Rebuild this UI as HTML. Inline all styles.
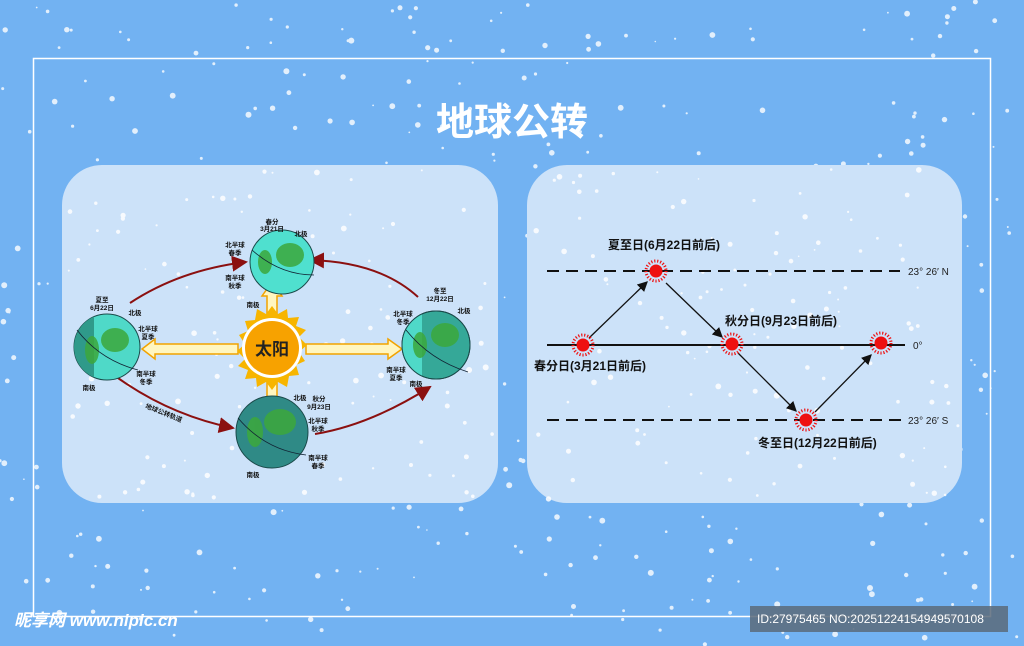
<!DOCTYPE html>
<html><head><meta charset="utf-8"><style>
body{margin:0;width:1024px;height:646px;overflow:hidden;background:#72b2f2;font-family:"Liberation Sans","Noto Sans CJK SC",sans-serif}
</style></head><body>
<svg width="1024" height="646" viewBox="0 0 1024 646" xmlns="http://www.w3.org/2000/svg" style="position:absolute;left:0;top:0">
<defs>
<marker id="ar" markerWidth="8" markerHeight="8" refX="7" refY="4" orient="auto"><path d="M0,0 L8,4 L0,8 z" fill="#8b1010"/></marker>
<marker id="ab" markerWidth="8" markerHeight="8" refX="7" refY="4" orient="auto"><path d="M0,0 L8,4 L0,8 z" fill="#111"/></marker>
<clipPath id="cR"><circle cx="436" cy="345" r="34"/></clipPath>
<clipPath id="cL"><circle cx="107" cy="347" r="33"/></clipPath>
</defs>
<rect width="1024" height="646" fill="#72b2f2"/>
<g id="snow1" fill="#fff" opacity="0.8"></g>
<rect x="33.5" y="58.5" width="957" height="558" fill="none" stroke="#fff" stroke-width="1.5"/>
<text x="512" y="135" text-anchor="middle" fill="#fff" font-size="38" font-weight="bold">地球公转</text>
<rect x="62" y="165" width="436" height="338" rx="40" fill="#cce2f9"/>
<rect x="527" y="165" width="435" height="338" rx="40" fill="#cce2f9"/>
<g id="snow2" fill="#fff" opacity="0.85"></g>
<!-- orbit -->
<g fill="none" stroke="#8b1010" stroke-width="2">
<path d="M130,303 Q180,270 246,262" marker-end="url(#ar)"/>
<path d="M418,297 Q380,262 310,260" marker-end="url(#ar)"/>
<path d="M118,378 Q170,415 233,428" marker-end="url(#ar)"/>
<path d="M315,434 Q370,425 430,387" marker-end="url(#ar)"/>
</g>
<g fill="#fff6c0" stroke="#f2a300" stroke-width="1.5">
<path d="M238,344 L155,344 L155,339 L142,349 L155,359 L155,354 L238,354 z"/>
<path d="M306,344 L388,344 L388,339 L402,349 L388,359 L388,354 L306,354 z"/>
<path d="M267,315 L267,296 L262,296 L272,282 L282,296 L277,296 L277,315 z"/>
<rect x="267" y="380" width="10" height="22"/>
</g>
<g transform="translate(272,348)">
<polygon fill="#f7b500" points="0,-42 6,-34 15,-39 16,-30 27,-31 24,-22 34,-18 27,-11 35,-3 27,4 33,13 24,17 27,27 17,28 15,39 6,34 0,42 -6,34 -15,39 -16,30 -27,31 -24,22 -34,18 -27,11 -35,3 -27,-4 -33,-13 -24,-17 -27,-27 -17,-28 -15,-39 -6,-34"/>
<circle r="30" fill="#fff"/><circle r="27" fill="#f7a200"/>
<text y="7" text-anchor="middle" font-size="17" font-weight="bold" fill="#222">太阳</text>
</g>
<g stroke="#1a4a4a" stroke-width="1">
<circle cx="282" cy="262" r="32" fill="#4fe0cf"/>
<circle cx="107" cy="347" r="33" fill="#4fd9c8"/>
<rect x="70" y="310" width="24" height="80" fill="#2f9a8a" stroke="none" clip-path="url(#cL)"/>
<circle cx="436" cy="345" r="34" fill="#35a898"/>
<rect x="400" y="308" width="22" height="80" fill="#4fd9c8" stroke="none" clip-path="url(#cR)"/>
<circle cx="436" cy="345" r="34" fill="none"/>
<circle cx="272" cy="432" r="36" fill="#2f8a86"/>
</g>
<g fill="#3ca83c" opacity="0.85">
<ellipse cx="290" cy="255" rx="14" ry="12"/><ellipse cx="265" cy="262" rx="7" ry="12"/>
<ellipse cx="115" cy="340" rx="14" ry="12"/><ellipse cx="92" cy="350" rx="7" ry="14"/>
<ellipse cx="445" cy="335" rx="14" ry="12"/><ellipse cx="420" cy="345" rx="7" ry="13"/>
<ellipse cx="280" cy="422" rx="16" ry="13"/><ellipse cx="255" cy="432" rx="8" ry="15"/>
</g>
<g fill="none" stroke="#123" stroke-width="0.8">
<path d="M252,250 Q280,275 314,275"/><path d="M77,330 Q100,360 138,370"/><path d="M406,330 Q430,360 468,372"/><path d="M238,418 Q265,450 306,455"/>
</g>
<g font-size="6.5" font-weight="bold" fill="#111" text-anchor="middle">
<text x="272" y="224">春分</text><text x="272" y="231">3月21日</text><text x="301" y="236">北极</text>
<text x="235" y="247">北半球</text><text x="235" y="255">春季</text><text x="235" y="280">南半球</text><text x="235" y="288">秋季</text><text x="253" y="307">南极</text>
<text x="102" y="302">夏至</text><text x="102" y="310">6月22日</text><text x="135" y="315">北极</text>
<text x="148" y="331">北半球</text><text x="148" y="339">夏季</text><text x="146" y="376">南半球</text><text x="146" y="384">冬季</text><text x="89" y="390">南极</text>
<text x="440" y="293">冬至</text><text x="440" y="301">12月22日</text><text x="464" y="313">北极</text>
<text x="403" y="316">北半球</text><text x="403" y="324">冬季</text><text x="396" y="372">南半球</text><text x="396" y="380">夏季</text><text x="416" y="386">南极</text>
<text x="300" y="400">北极</text><text x="319" y="401">秋分</text><text x="319" y="409">9月23日</text>
<text x="318" y="423">北半球</text><text x="318" y="431">秋季</text><text x="318" y="460">南半球</text><text x="318" y="468">春季</text><text x="253" y="477">南极</text>
<text x="163" y="415" transform="rotate(22 163 415)">地球公转轨道</text>
</g>
<g stroke="#111" stroke-width="2">
<line x1="547" y1="271" x2="900" y2="271" stroke-dasharray="12,7"/>
<line x1="547" y1="420" x2="905" y2="420" stroke-dasharray="12,7"/>
<line x1="547" y1="345" x2="905" y2="345"/>
</g>
<g stroke="#111" stroke-width="1.3" fill="none">
<line x1="589" y1="338" x2="647" y2="282" marker-end="url(#ab)"/>
<line x1="666" y1="283" x2="722" y2="337" marker-end="url(#ab)"/>
<line x1="738" y1="353" x2="796" y2="411" marker-end="url(#ab)"/>
<line x1="815" y1="412" x2="871" y2="355" marker-end="url(#ab)"/>
</g>
<g fill="#ee1111" stroke="#ee1111">
<g transform="translate(656,271)"><circle r="6"/><circle r="10" fill="none" stroke-width="3" stroke-dasharray="1.2,1.8"/></g>
<g transform="translate(583,345)"><circle r="6"/><circle r="10" fill="none" stroke-width="3" stroke-dasharray="1.2,1.8"/></g>
<g transform="translate(732,344)"><circle r="6"/><circle r="10" fill="none" stroke-width="3" stroke-dasharray="1.2,1.8"/></g>
<g transform="translate(881,343)"><circle r="6"/><circle r="10" fill="none" stroke-width="3" stroke-dasharray="1.2,1.8"/></g>
<g transform="translate(806,420)"><circle r="6"/><circle r="10" fill="none" stroke-width="3" stroke-dasharray="1.2,1.8"/></g>
</g>
<g font-size="12" font-weight="bold" fill="#111">
<text x="608" y="249">夏至日(6月22日前后)</text>
<text x="725" y="325">秋分日(9月23日前后)</text>
<text x="534" y="370">春分日(3月21日前后)</text>
<text x="758" y="447">冬至日(12月22日前后)</text>
</g>
<g font-size="10" fill="#222">
<text x="908" y="275">23°  26′  N</text>
<text x="913" y="349">0°</text>
<text x="908" y="424">23°  26′  S</text>
</g>
<text x="14" y="626" font-size="17" font-weight="bold" font-style="italic" fill="#fff">昵享网 www.nipic.cn</text>
<rect x="750" y="606" width="258" height="26" fill="#5a6a7a" opacity="0.85"/>
<text x="757" y="623" font-size="12" fill="#fff">ID:27975465 NO:20251224154949570108</text>
</svg>
<script>
(function(){var s=12345;function r(){s=(s*16807)%2147483647;return s/2147483647;}
var ns="http://www.w3.org/2000/svg";
function fill(id,n,x0,y0,w,h,inPanel){var g=document.getElementById(id);for(var i=0;i<n;i++){var x=x0+r()*w,y=y0+r()*h;
if(inPanel){if(!((x>66&&x<494&&y>169&&y<499)||(x>531&&x<958&&y>169&&y<499)))continue;}
var c=document.createElementNS(ns,"circle");c.setAttribute("cx",x.toFixed(1));c.setAttribute("cy",y.toFixed(1));c.setAttribute("r",(0.8+r()*2.2).toFixed(1));g.appendChild(c);}}
fill("snow1",450,0,0,1024,646,false);fill("snow2",260,62,165,900,338,true);})();
</script>
</body></html>
